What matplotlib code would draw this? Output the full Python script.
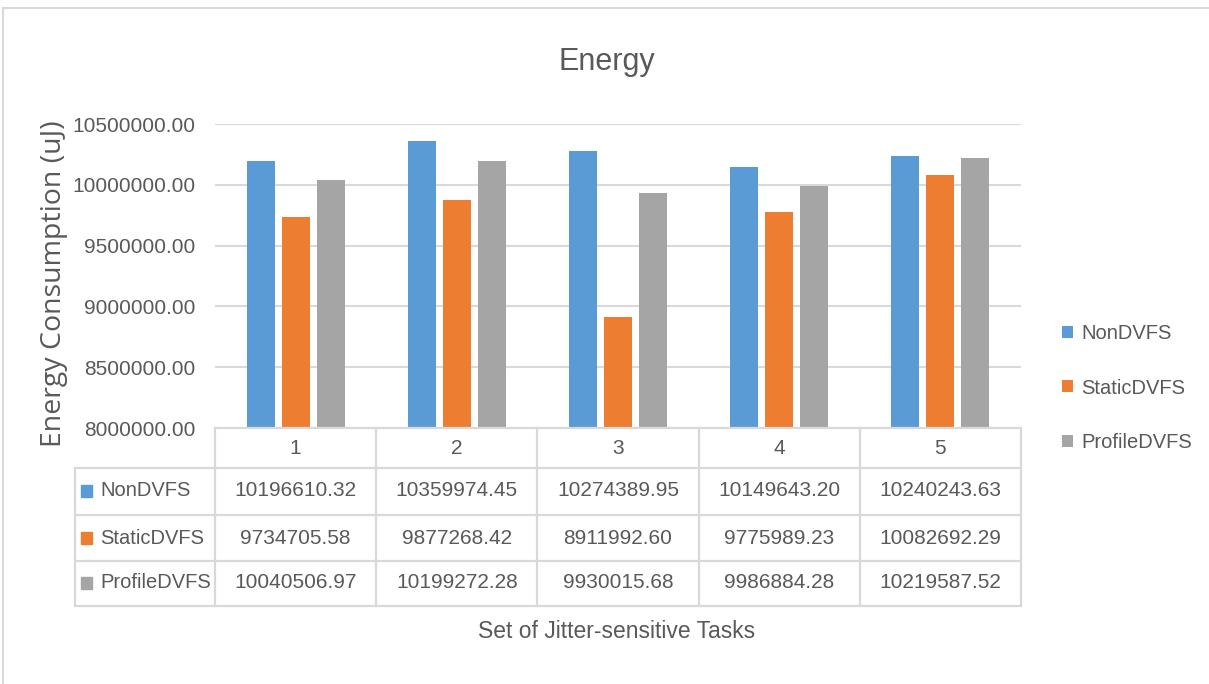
import matplotlib
matplotlib.use("Agg")
import matplotlib.pyplot as plt
import matplotlib.transforms as mtransforms
from matplotlib.lines import Line2D
from matplotlib.patches import Rectangle
import numpy as np

task_sets = ["1", "2", "3", "4", "5"]
series_names = ["NonDVFS", "StaticDVFS", "ProfileDVFS"]
non_dvfs = [10196610.32, 10359974.45, 10274389.95, 10149643.20, 10240243.63]
static_dvfs = [9734705.58, 9877268.42, 8911992.60, 9775989.23, 10082692.29]
profile_dvfs = [10040506.97, 10199272.28, 9930015.68, 9986884.28, 10219587.52]
colors = ["#5B9BD5", "#ED7D31", "#A5A5A5"]

TEXT = "#595959"
GRID = "#D9D9D9"
plt.rcParams["font.family"] = ["Liberation Sans", "DejaVu Sans"]

W, H = 1209, 684
fig = plt.figure(figsize=(W / 100, H / 100), dpi=100)


def fx(px):
    return px / W


def fy(py):
    return 1 - py / H


# plot area sits above the data table
ax_l, ax_r, ax_t, ax_b = 215, 1021, 124, 428
ax = fig.add_axes([fx(ax_l), fy(ax_b), fx(ax_r - ax_l), fy(ax_t) - fy(ax_b)])

x = np.arange(len(task_sets))
width = 0.174
offset = 0.217
all_series = [non_dvfs, static_dvfs, profile_dvfs]
bars = []
for i, (vals, c) in enumerate(zip(all_series, colors)):
    b = ax.bar(x + (i - 1) * offset, vals, width, color=c, label=series_names[i], zorder=3)
    bars.append(b)

ax.set_xlim(-0.5, len(task_sets) - 0.5)
ax.set_ylim(8000000, 10500000)
ax.set_yticks(np.arange(8000000, 10500001, 500000))
ax.yaxis.set_major_formatter(matplotlib.ticker.FormatStrFormatter("%.2f"))
ax.tick_params(axis="y", length=0, pad=14, labelsize=15, labelcolor=TEXT)
ax.set_xticks([])
ax.grid(axis="y", color=GRID, linewidth=1.5, zorder=0)
for s in ax.spines.values():
    s.set_visible(False)

# data table: x in data units, y in figure fraction
tr = mtransforms.blended_transform_factory(ax.transData, fig.transFigure)
left_edge = -0.5 - (ax_l - 75) / ((ax_r - ax_l) / len(task_sets))
right_edge = len(task_sets) - 0.5
rows_y = [428, 468, 515, 561, 606]
lkw = dict(color=GRID, linewidth=1.6, transform=tr, clip_on=False)

fig.add_artist(Line2D([-0.5, right_edge], [fy(rows_y[0])] * 2, **lkw))
for yy in rows_y[1:]:
    fig.add_artist(Line2D([left_edge, right_edge], [fy(yy)] * 2, **lkw))
for k in range(len(task_sets) + 1):
    fig.add_artist(Line2D([k - 0.5] * 2, [fy(rows_y[0]), fy(rows_y[-1])], **lkw))
fig.add_artist(Line2D([left_edge] * 2, [fy(rows_y[1]), fy(rows_y[-1])], **lkw))

for k, lab in enumerate(task_sets):
    fig.text(k, fy(449), lab, transform=tr, ha="center", va="center",
             fontsize=15, color=TEXT)

row_centers = [491, 538, 583]
for r, (name, vals, c) in enumerate(zip(series_names, all_series, colors)):
    yc = fy(row_centers[r])
    fig.add_artist(Rectangle((fx(81), yc - 6 / H), 11 / W, 12 / H,
                             transform=fig.transFigure, color=c))
    fig.text(fx(100), yc, name, ha="left", va="center", fontsize=14.5, color=TEXT)
    for k, v in enumerate(vals):
        fig.text(k, yc, f"{v:.2f}", transform=tr, ha="center", va="center",
                 fontsize=15, color=TEXT)

fig.text(fx(607), fy(62), "Energy", ha="center", va="center", fontsize=22, color=TEXT)
fig.text(fx(617), fy(632), "Set of Jitter-sensitive Tasks", ha="center", va="center",
         fontsize=16.5, color=TEXT)
fig.text(fx(54), fy(284), "Energy Consumption (uJ)", rotation=90, ha="center",
         va="center", fontsize=20.5, color=TEXT, family=["Open Sans", "DejaVu Sans"])

fig.legend(handles=bars, labels=series_names, loc="center left",
           bbox_to_anchor=(fx(1062), fy(388)), frameon=False, fontsize=14.5,
           labelcolor=TEXT, handlelength=0.55, handleheight=0.55,
           handletextpad=0.4, labelspacing=1.75, borderpad=0, borderaxespad=0)

# chart area border
fig.add_artist(Line2D([fx(3), 1], [fy(8)] * 2, color=GRID, linewidth=1.5))
fig.add_artist(Line2D([fx(3)] * 2, [fy(8), 0], color=GRID, linewidth=1.5))

fig.savefig("out.png", dpi=100, facecolor="white")
